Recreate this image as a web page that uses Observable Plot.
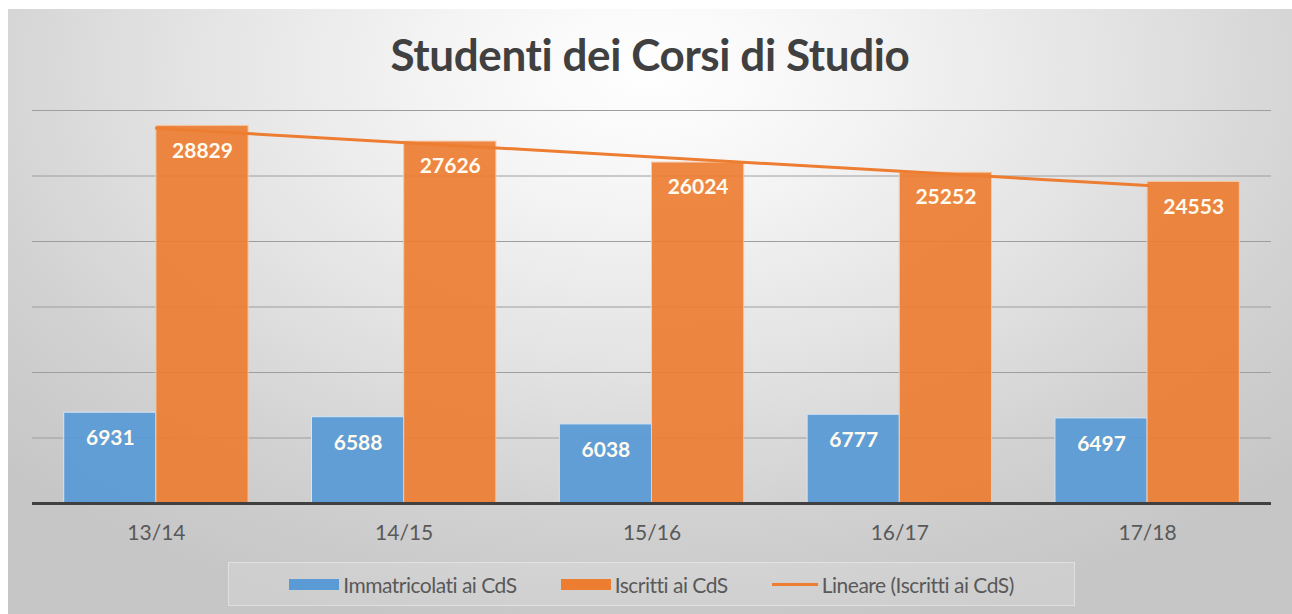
<!DOCTYPE html>
<html><head><meta charset="utf-8">
<script src="https://cdn.jsdelivr.net/npm/d3@7"></script>
<script src="https://cdn.jsdelivr.net/npm/@observablehq/plot@0.6"></script>
<style>
body{margin:0;width:1292px;height:614px;position:relative;overflow:hidden;background:#fff;font-family:Lato,"Open Sans",sans-serif;}
#bg{position:absolute;left:8px;top:9px;width:1284px;height:605px;
 background:radial-gradient(ellipse 70% 95% at 50% 10%, #ffffff 0%, #f5f5f5 22%, #e3e3e3 52%, #d0d0d0 80%, #c6c6c6 100%);}
#title{position:absolute;left:8px;width:1284px;top:26px;text-align:center;font-weight:700;font-size:44px;line-height:56px;color:#404040;letter-spacing:-0.4px;}
#plot{position:absolute;left:0;top:100px;}
#legend{position:absolute;left:228px;top:562px;width:847px;height:44px;box-sizing:border-box;
 border:1px solid rgba(255,255,255,0.35);background:rgba(255,255,255,0.14);
 display:flex;align-items:center;justify-content:center;gap:44px;font-size:21px;color:#595959;letter-spacing:-0.5px;}
.item{display:flex;align-items:center;gap:4px;}
.sw{width:50px;height:11px;}
.ln{width:46px;height:3px;}
</style></head>
<body>
<div id="bg"></div>
<div id="title"></div>
<div id="plot"></div>
<div id="legend"></div>
<script>
const chartTitle = "Studenti dei Corsi di Studio";
const years = ["13/14", "14/15", "15/16", "16/17", "17/18"];
const immatricolati = [6931, 6588, 6038, 6777, 6497];
const iscritti = [28829, 27626, 26024, 25252, 24553];
const seriesNames = ["Immatricolati ai CdS", "Iscritti ai CdS", "Lineare (Iscritti ai CdS)"];
const colors = ["#5B9BD5", "#ED7D31", "#ED7D31"];
const yTicks = [5000, 10000, 15000, 20000, 25000, 30000];

document.getElementById("title").textContent = chartTitle;

const rows = years.map((y, k) => ({i: k + 1, year: y, imm: immatricolati[k], isc: iscritti[k]}));
const barW = 0.372;

const chart = Plot.plot({
  width: 1292, height: 450,
  marginLeft: 32, marginRight: 21, marginTop: 10, marginBottom: 47,
  style: {background: "transparent", fontFamily: "Lato, 'Open Sans', sans-serif"},
  x: {domain: [0.5, 5.5], label: null},
  y: {domain: [0, 30000], axis: null},
  marks: [
    Plot.ruleY(yTicks, {stroke: "#9e9e9e", strokeWidth: 1}),
    Plot.rect(rows, {x1: d => d.i - barW, x2: d => d.i, y1: 0, y2: "imm", fill: colors[0], fillOpacity: 0.95, stroke: "#d6e6f5", strokeWidth: 1}),
    Plot.rect(rows, {x1: d => d.i, x2: d => d.i + barW, y1: 0, y2: "isc", fill: colors[1], fillOpacity: 0.92, stroke: "#f6c9a8", strokeWidth: 1}),
    Plot.linearRegressionY(rows, {x: "i", y: "isc", ci: 0, stroke: colors[2], strokeWidth: 3}),
    Plot.ruleY([0], {stroke: "#404040", strokeWidth: 3}),
    Plot.text(rows, {x: d => d.i - barW / 2, y: "imm", text: d => String(d.imm), dy: 26, fill: "#fffbf0", fontWeight: "bold", fontSize: 21}),
    Plot.text(rows, {x: d => d.i + barW / 2, y: "isc", text: d => String(d.isc), dy: 25, fill: "#fffbf0", fontWeight: "bold", fontSize: 21}),
    Plot.axisX({ticks: rows.map(d => d.i), tickFormat: v => years[v - 1], tickSize: 0, tickPadding: 22, fontSize: 21, fill: "#595959", label: null})
  ]
});
document.getElementById("plot").appendChild(chart);

const lg = document.getElementById("legend");
seriesNames.forEach((name, k) => {
  const it = document.createElement("div");
  it.className = "item";
  const sw = document.createElement("span");
  sw.className = k === 2 ? "ln" : "sw";
  sw.style.background = colors[k];
  const t = document.createElement("span");
  t.textContent = name;
  it.appendChild(sw); it.appendChild(t);
  lg.appendChild(it);
});
</script>
</body></html>
